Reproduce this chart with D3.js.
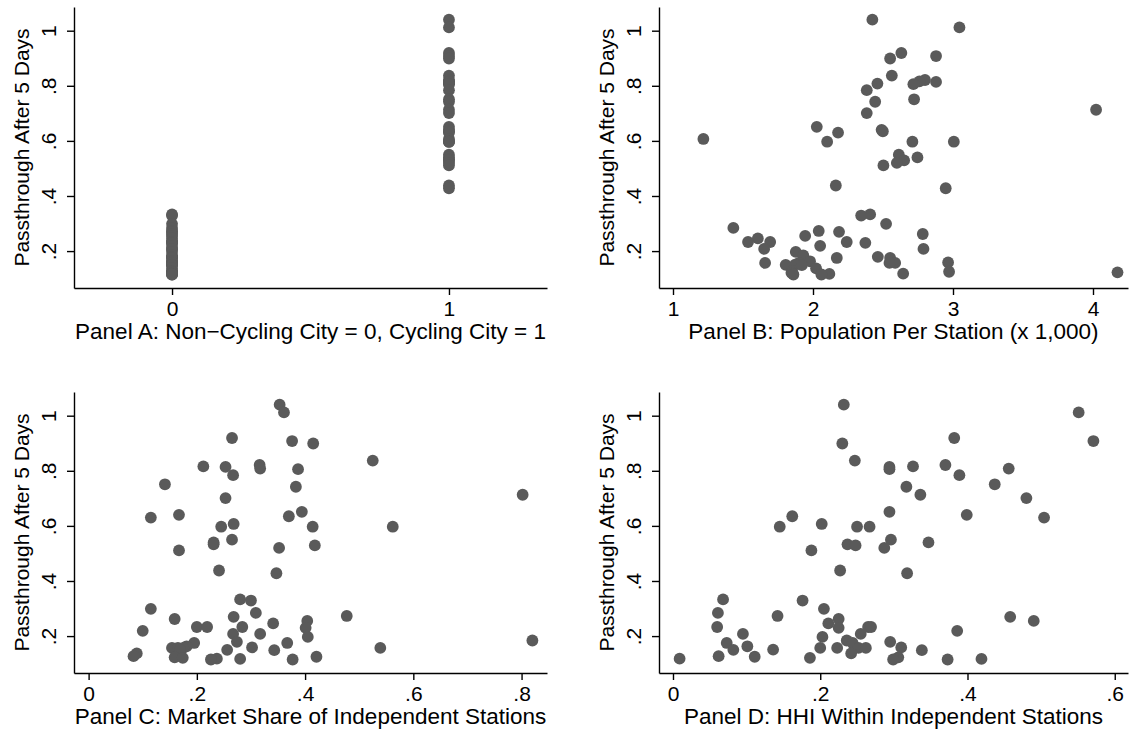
<!DOCTYPE html>
<html>
<head>
<meta charset="utf-8">
<script src="https://cdn.jsdelivr.net/npm/d3@7.9.0/dist/d3.min.js"></script>
<style>
  body { margin: 0; background: #fff; }
  svg text { font-family: "Liberation Sans", Arial, Helvetica, sans-serif; fill: #000; }
</style>
</head>
<body>
<svg id="chart" width="1133" height="732"></svg>
<script>
// One row per city: passthrough after 5 days, and the four explanatory variables.
// Cycling cities first (high passthrough), then non-cycling cities.
const passthrough = [
  1.040, 1.012, 0.919, 0.908, 0.899, 0.837, 0.821, 0.816, 0.814, 0.808, 0.806,
  0.784, 0.751, 0.742, 0.713, 0.701, 0.651, 0.640, 0.635, 0.630, 0.607, 0.597,
  0.597, 0.597, 0.550, 0.540, 0.533, 0.529, 0.520, 0.511, 0.438, 0.428,
  0.333, 0.329, 0.299, 0.284, 0.273, 0.270, 0.262, 0.255, 0.246, 0.233, 0.233,
  0.233, 0.230, 0.219, 0.208, 0.208, 0.197, 0.184, 0.179, 0.175, 0.175, 0.163,
  0.159, 0.157, 0.157, 0.157, 0.157, 0.151, 0.150, 0.149, 0.137, 0.127, 0.125,
  0.123, 0.121, 0.118, 0.117, 0.115, 0.115
];

const cycling = [
  1, 1, 1, 1, 1, 1, 1, 1, 1, 1, 1, 1, 1, 1, 1, 1, 1, 1, 1, 1, 1, 1, 1, 1, 1, 1,
  1, 1, 1, 1, 1, 1,
  0, 0, 0, 0, 0, 0, 0, 0, 0, 0, 0, 0, 0, 0, 0, 0, 0, 0, 0, 0, 0, 0, 0, 0, 0, 0,
  0, 0, 0, 0, 0, 0, 0, 0, 0, 0, 0, 0, 0
];

const popPerStation = [
  2.424, 3.046, 2.631, 2.879, 2.551, 2.563, 2.800, 2.760, 2.879, 2.460, 2.717,
  2.384, 2.722, 2.444, 4.022, 2.384, 2.027, 2.490, 2.499, 2.179, 1.217, 2.101,
  2.710, 3.006, 2.613, 2.746, 2.620, 2.651, 2.599, 2.503, 2.163, 2.948,
  2.408, 2.344, 2.522, 1.431, 2.041, 2.186, 2.784, 1.944, 1.606, 1.694, 2.241,
  1.536, 2.374, 2.051, 2.789, 1.651, 1.877, 1.931, 2.463, 2.551, 2.170, 1.979,
  2.965, 1.658, 1.900, 2.587, 2.546, 1.872, 1.805, 1.920, 2.022, 1.850, 2.972,
  4.175, 1.846, 2.644, 2.117, 2.060, 1.860
];

const indepShare = [
  0.353, 0.361, 0.265, 0.376, 0.415, 0.525, 0.316, 0.212, 0.253, 0.317, 0.387,
  0.267, 0.141, 0.383, 0.802, 0.253, 0.394, 0.167, 0.370, 0.115, 0.268, 0.245,
  0.414, 0.562, 0.265, 0.231, 0.231, 0.418, 0.352, 0.167, 0.241, 0.347,
  0.280, 0.300, 0.115, 0.309, 0.477, 0.268, 0.159, 0.404, 0.341, 0.200, 0.219,
  0.284, 0.401, 0.100, 0.267, 0.317, 0.405, 0.820, 0.274, 0.367, 0.195, 0.181,
  0.302, 0.154, 0.539, 0.165, 0.175, 0.169, 0.256, 0.343, 0.089, 0.083, 0.421,
  0.159, 0.174, 0.237, 0.280, 0.226, 0.377
];

const hhiIndep = [
  0.232, 0.551, 0.382, 0.571, 0.230, 0.247, 0.370, 0.326, 0.294, 0.456, 0.294,
  0.389, 0.437, 0.317, 0.336, 0.480, 0.294, 0.399, 0.162, 0.504, 0.202, 0.145,
  0.250, 0.267, 0.296, 0.347, 0.237, 0.248, 0.287, 0.188, 0.227, 0.318,
  0.068, 0.176, 0.205, 0.061, 0.142, 0.458, 0.225, 0.490, 0.211, 0.060, 0.265,
  0.269, 0.225, 0.386, 0.095, 0.255, 0.203, 0.236, 0.295, 0.073, 0.244, 0.101,
  0.310, 0.200, 0.223, 0.252, 0.262, 0.136, 0.082, 0.338, 0.242, 0.062, 0.111,
  0.306, 0.186, 0.009, 0.419, 0.299, 0.373
];

const yTicks = [0.2, 0.4, 0.6, 0.8, 1];
const yTitle = 'Passthrough After 5 Days';

const panels = [
  { x: cycling, ticks: [0, 1], domain: [-0.354, 1.354],
    caption: 'Panel A: Non\u2212Cycling City = 0, Cycling City = 1',
    left: 74, right: 547, top: 7, bottom: 288 },
  { x: popPerStation, ticks: [1, 2, 3, 4], domain: [0.9, 4.25],
    caption: 'Panel B: Population Per Station (x 1,000)',
    left: 659, right: 1128, top: 7, bottom: 288 },
  { x: indepShare, ticks: [0, 0.2, 0.4, 0.6, 0.8], domain: [-0.027, 0.847],
    caption: 'Panel C: Market Share of Independent Stations',
    left: 74, right: 547, top: 392, bottom: 673 },
  { x: hhiIndep, ticks: [0, 0.2, 0.4, 0.6], domain: [-0.019, 0.618],
    caption: 'Panel D: HHI Within Independent Stations',
    left: 659, right: 1128, top: 392, bottom: 673 }
];

// Stata style labels: ".2" rather than "0.2"
const fmt = d => d3.format('~g')(d).replace(/^0\./, '.');

const svg = d3.select('#chart');
const font = '"Liberation Sans", Arial, Helvetica, sans-serif';

panels.forEach((p) => {
    let x = d3.scaleLinear().domain(p.domain).range([p.left, p.right]);
    let y = d3.scaleLinear().domain([0.066, 1.086]).range([p.bottom, p.top]);
    let g = svg.append('g');

    // Points
    g.selectAll('circle')
        .data(passthrough)
        .join('circle')
        .attr('cx', (d, i) => x(p.x[i]))
        .attr('cy', (d) => y(d))
        .attr('r', 5.9)
        .attr('fill', '#5a5a5a');

    // Y axis, labels turned like the title
    g.append('g')
        .attr('transform', `translate(${p.left},0)`)
        .call(d3.axisLeft(y).tickValues(yTicks).tickSize(7).tickSizeOuter(0).tickFormat(fmt))
        .attr('font-size', 21)
        .attr('font-family', font)
        .call((s) => s.selectAll('path, line').attr('stroke-width', 1.4))
        .call((s) => s.selectAll('.tick text')
            .attr('x', 0)
            .attr('y', -18)
            .attr('dy', null)
            .attr('text-anchor', 'middle')
            .attr('transform', 'rotate(-90)'));

    // X axis
    g.append('g')
        .attr('transform', `translate(0,${p.bottom})`)
        .call(d3.axisBottom(x).tickValues(p.ticks).tickSize(7).tickSizeOuter(0).tickFormat(fmt))
        .attr('font-size', 21)
        .attr('font-family', font)
        .call((s) => s.selectAll('path, line').attr('stroke-width', 1.4))
        .call((s) => s.selectAll('.tick text').attr('y', 28).attr('dy', null));

    // Titles
    g.append('text')
        .attr('transform', `translate(${p.left - 45},${(p.top + p.bottom) / 2}) rotate(-90)`)
        .attr('text-anchor', 'middle')
        .attr('font-size', 21)
        .text(yTitle);

    g.append('text')
        .attr('x', (p.left + p.right) / 2)
        .attr('y', p.bottom + 51)
        .attr('text-anchor', 'middle')
        .attr('font-size', 22.5)
        .text(p.caption);
});
</script>
</body>
</html>
